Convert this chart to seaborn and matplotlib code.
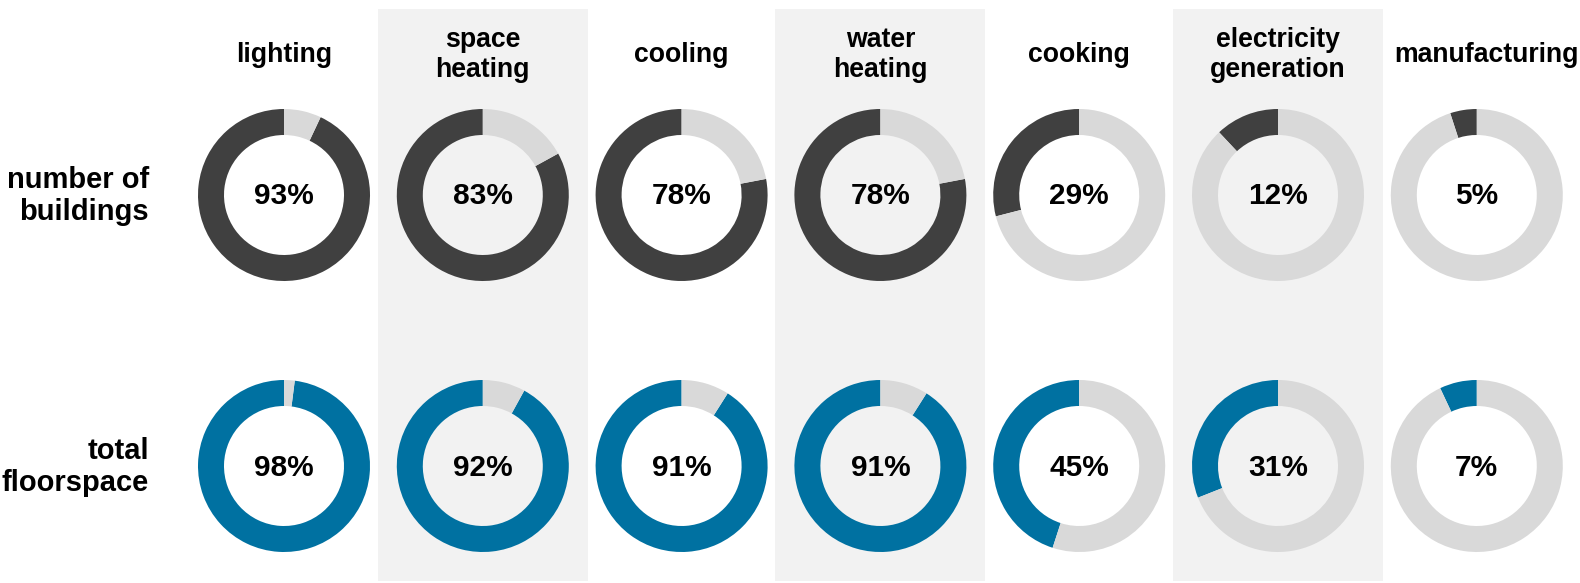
import matplotlib
matplotlib.use("Agg")
import matplotlib.pyplot as plt
import seaborn as sns

# ---- data ----
categories = ["lighting", "space\nheating", "cooling", "water\nheating",
              "cooking", "electricity\ngeneration", "manufacturing"]
row_labels = ["number of\nbuildings", "total\nfloorspace"]
buildings_pct = [93, 83, 78, 78, 29, 12, 5]
floorspace_pct = [98, 92, 91, 91, 45, 31, 7]

# ---- style ----
sns.set_theme(style="white")
plt.rcParams['font.family'] = ['Liberation Sans', 'DejaVu Sans']

DARK = "#404040"
BLUE = "#0071a1"
LIGHT = "#d9d9d9"
BAND = "#f2f2f2"

W, H = 1580, 583
fig = plt.figure(figsize=(W / 100, H / 100), dpi=100)
ax = fig.add_axes([0, 0, 1, 1])

col_x0, col_step = 284, 198.8
row_y = [195, 466]          # pixel rows from top
radius, ring = 86, 26

def ypix(y):
    return H - y

# shaded bands behind alternating columns
for i in range(len(categories)):
    cx = col_x0 + col_step * i
    if i % 2 == 1:
        ax.axvspan(cx - 105, cx + 105, ymin=(H - 581) / H, ymax=(H - 9) / H,
                   color=BAND, lw=0, zorder=0)

series = [(buildings_pct, DARK), (floorspace_pct, BLUE)]
for r, (vals, col) in enumerate(series):
    cy = ypix(row_y[r])
    for i, v in enumerate(vals):
        cx = col_x0 + col_step * i
        ax.pie([v, 100 - v], colors=[col, LIGHT], startangle=90, counterclock=True,
               radius=radius, center=(cx, cy), frame=True,
               wedgeprops=dict(width=ring, linewidth=0, edgecolor="none"))
        ax.text(cx, ypix(row_y[r] + 9.5), f"{v}%", ha="center", va="baseline",
                fontsize=21.5, fontweight="bold", color="black", zorder=5)
    ax.text(149, ypix(row_y[r] + 1), row_labels[r], ha="right", va="center",
            multialignment="right", fontsize=21, fontweight="bold",
            color="black", linespacing=1.21)

for i, c in enumerate(categories):
    cx = col_x0 + col_step * i
    if i == len(categories) - 1:
        cx += 10
    ax.text(cx, ypix(55), c, ha="center", va="center", fontsize=19.2,
            fontweight="bold", color="black", linespacing=1.24)

ax.set_xlim(0, W)
ax.set_ylim(0, H)
ax.set_aspect("auto")
ax.axis("off")

fig.savefig("out.png", dpi=100, facecolor="white")
